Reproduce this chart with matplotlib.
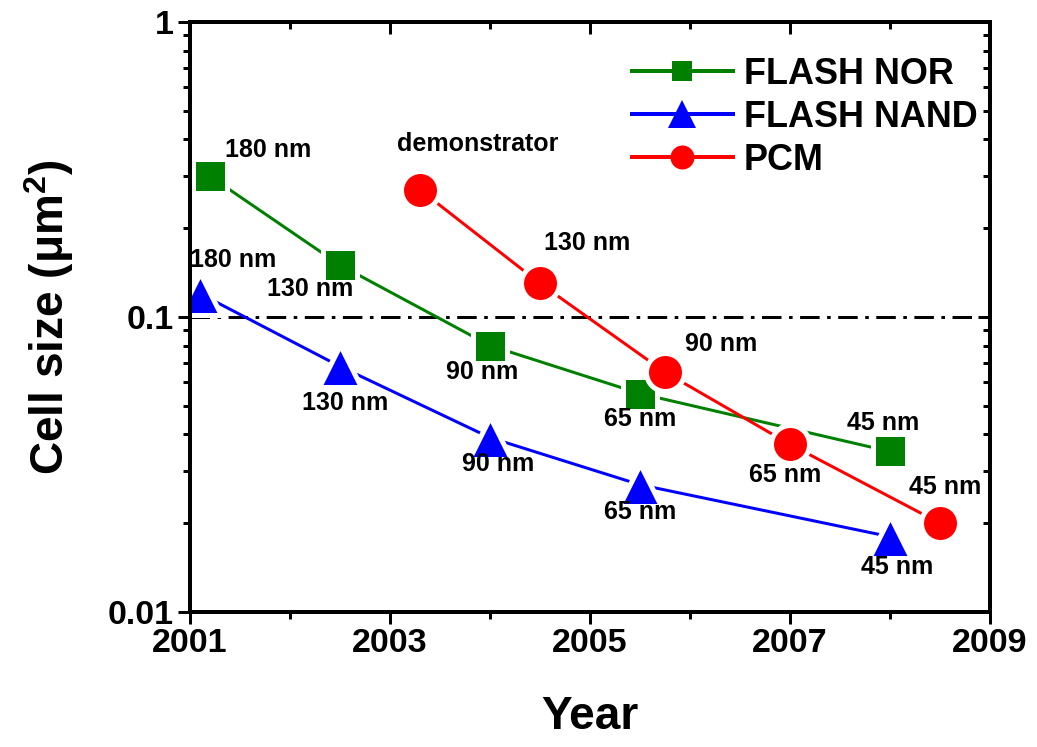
import numpy as np
import matplotlib
matplotlib.use('Agg')
import matplotlib.pyplot as plt
from matplotlib.ticker import FixedLocator, LogLocator, NullFormatter, FuncFormatter

plt.rcParams['font.family'] = ['Liberation Sans', 'DejaVu Sans']
plt.rcParams['font.weight'] = 'bold'
plt.rcParams['mathtext.fontset'] = 'custom'
plt.rcParams['mathtext.rm'] = 'Liberation Sans:bold'
plt.rcParams['mathtext.bf'] = 'Liberation Sans:bold'
plt.rcParams['mathtext.default'] = 'bf'

# data
nor_years = [2001.2, 2002.5, 2004.0, 2005.5, 2008.0]
nor_size = [0.30, 0.15, 0.080, 0.055, 0.035]
nor_labels = ['180 nm', '130 nm', '90 nm', '65 nm', '45 nm']

nand_years = [2001.1, 2002.5, 2004.0, 2005.5, 2008.0]
nand_size = [0.12, 0.068, 0.039, 0.027, 0.018]
nand_labels = ['180 nm', '130 nm', '90 nm', '65 nm', '45 nm']

pcm_years = [2003.3, 2004.5, 2005.75, 2007.0, 2008.5]
pcm_size = [0.27, 0.13, 0.065, 0.037, 0.020]
pcm_labels = ['demonstrator', '130 nm', '90 nm', '65 nm', '45 nm']

threshold = 0.1

# label offsets (points, relative to marker)
nor_off = [(58, 26), (-30, -24), (-8, -26), (0, -25), (-7, 28)]
nand_off = [(33, 34), (5, -37), (8, -26), (0, -27), (7, -30)]
pcm_off = [(58, 46), (47, 40), (56, 28), (-5, -31), (5, 36)]

DPI = 72
fig = plt.figure(figsize=(1037 / DPI, 747 / DPI), dpi=DPI)
ax = fig.add_axes([190 / 1037, 135 / 747, 800 / 1037, 590 / 747])

ax.axhline(threshold, color='black', lw=3, linestyle=(0, (6.5, 2.5, 1.2, 2.5)), zorder=1)

series = [
    (nor_years, nor_size, 'green', 's', 24, 'FLASH NOR', nor_labels, nor_off),
    (nand_years, nand_size, 'blue', '^', 32, 'FLASH NAND', nand_labels, nand_off),
    (pcm_years, pcm_size, 'red', 'o', 28, 'PCM', pcm_labels, pcm_off),
]
for xs, ys, col, mk, ms, name, labs, offs in series:
    ax.plot(xs, ys, color=col, lw=3, marker=mk, markersize=ms + 10,
            markerfacecolor=col, markeredgecolor='white', markeredgewidth=5,
            label=name, zorder=3)
    for x, y, lab, off in zip(xs, ys, labs, offs):
        ax.annotate(lab, (x, y), xytext=off, textcoords='offset points',
                    ha='center', va='center', fontsize=25, fontweight='bold')

ax.set_yscale('log')
ax.set_xlim(2001, 2009)
ax.set_ylim(0.01, 1)
ax.xaxis.set_major_locator(FixedLocator([2001, 2003, 2005, 2007, 2009]))
ax.xaxis.set_minor_locator(FixedLocator([2002, 2004, 2006, 2008]))
ax.yaxis.set_major_locator(FixedLocator([0.01, 0.1, 1]))
ax.yaxis.set_minor_locator(LogLocator(base=10, subs=np.arange(2, 10)))
ax.yaxis.set_minor_formatter(NullFormatter())
ax.yaxis.set_major_formatter(FuncFormatter(lambda v, p: '%g' % v))
ax.xaxis.set_major_formatter(FuncFormatter(lambda v, p: '%d' % v))

ax.tick_params(which='major', direction='out', length=12, width=3, labelsize=34, pad=4)
ax.tick_params(which='minor', direction='out', length=7, width=3)
for lab in ax.get_xticklabels() + ax.get_yticklabels():
    lab.set_fontweight('bold')
for sp in ax.spines.values():
    sp.set_linewidth(4)

# inward ticks on top and right
axt = ax.twiny()
axt.set_xlim(ax.get_xlim())
axt.xaxis.set_major_locator(FixedLocator([2001, 2003, 2005, 2007, 2009]))
axt.xaxis.set_minor_locator(FixedLocator([2002, 2004, 2006, 2008]))
axt.tick_params(which='major', direction='in', length=12, width=3, labeltop=False)
axt.tick_params(which='minor', direction='in', length=7, width=3)
axr = ax.twinx()
axr.set_yscale('log')
axr.set_ylim(ax.get_ylim())
axr.yaxis.set_major_locator(FixedLocator([0.01, 0.1, 1]))
axr.yaxis.set_minor_locator(LogLocator(base=10, subs=np.arange(2, 10)))
axr.tick_params(which='major', direction='in', length=12, width=3, labelright=False)
axr.tick_params(which='minor', direction='in', length=7, width=3, labelright=False)
for a in (axt, axr):
    for sp in a.spines.values():
        sp.set_linewidth(4)

ax.set_xlabel('Year', fontsize=46, fontweight='bold', labelpad=36)
ax.set_ylabel('Cell size (μm$^2$)', fontsize=46, fontweight='bold', labelpad=32)

leg = ax.legend(loc='upper right', frameon=False, fontsize=36, handlelength=2.8,
                handletextpad=0.3, labelspacing=0.22, borderaxespad=0.0,
                bbox_to_anchor=(1.002, 0.965))
for ln in leg.get_lines():
    ln.set_markeredgewidth(0)
    ln.set_markersize(ln.get_markersize() - 14)
    ln.set_linewidth(4)
for t in leg.get_texts():
    t.set_fontweight('bold')

fig.savefig('out.png', dpi=DPI)
